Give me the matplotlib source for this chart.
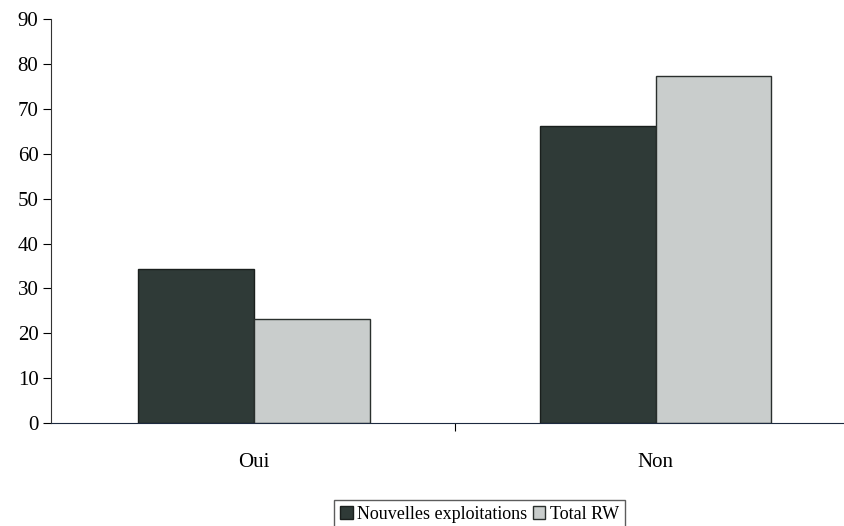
import matplotlib.pyplot as plt
import numpy as np

plt.rcParams['font.family'] = ['Liberation Serif', 'DejaVu Serif']

categories = ['Oui', 'Non']
nouvelles = [34.4, 66.2]
total_rw = [23.2, 77.4]
yticks = [0, 10, 20, 30, 40, 50, 60, 70, 80, 90]

fig = plt.figure(figsize=(8.44, 5.26), dpi=100)
ax = fig.add_axes([0.0604, 0.196, 0.957, 0.767])

x = np.arange(len(categories))
w = 0.288
ax.bar(x - w / 2, nouvelles, w, color='#2f3a37', edgecolor='#1a1f1d', linewidth=1,
       label='Nouvelles exploitations')
ax.bar(x + w / 2, total_rw, w, color='#c9cdcc', edgecolor='#2a2f2d', linewidth=1,
       label='Total RW')

ax.set_xlim(-0.505, 1.505)
ax.set_ylim(0, 90)
ax.set_yticks(yticks)
ax.set_xticks([0.5])
ax.set_xticklabels([''])
ax.tick_params(axis='y', direction='out', length=6, labelsize=15, pad=3)
ax.tick_params(axis='x', direction='out', length=6)
for xi, c in zip(x, categories):
    ax.text(xi, -6.8, c, ha='center', va='top', fontsize=15)

ax.spines['top'].set_visible(False)
ax.spines['right'].set_visible(False)
ax.spines['left'].set_color('#333333')
ax.spines['bottom'].set_color('#1d2a40')

leg = fig.legend(loc='lower center', bbox_to_anchor=(0.568, -0.01), ncol=2, fontsize=13,
                 frameon=True, fancybox=False, edgecolor='#333333',
                 handlelength=0.7, handleheight=0.7, handletextpad=0.25,
                 columnspacing=0.3, borderpad=0.35, borderaxespad=0.1)
leg.get_frame().set_linewidth(1)

fig.savefig('out.png', dpi=100)
